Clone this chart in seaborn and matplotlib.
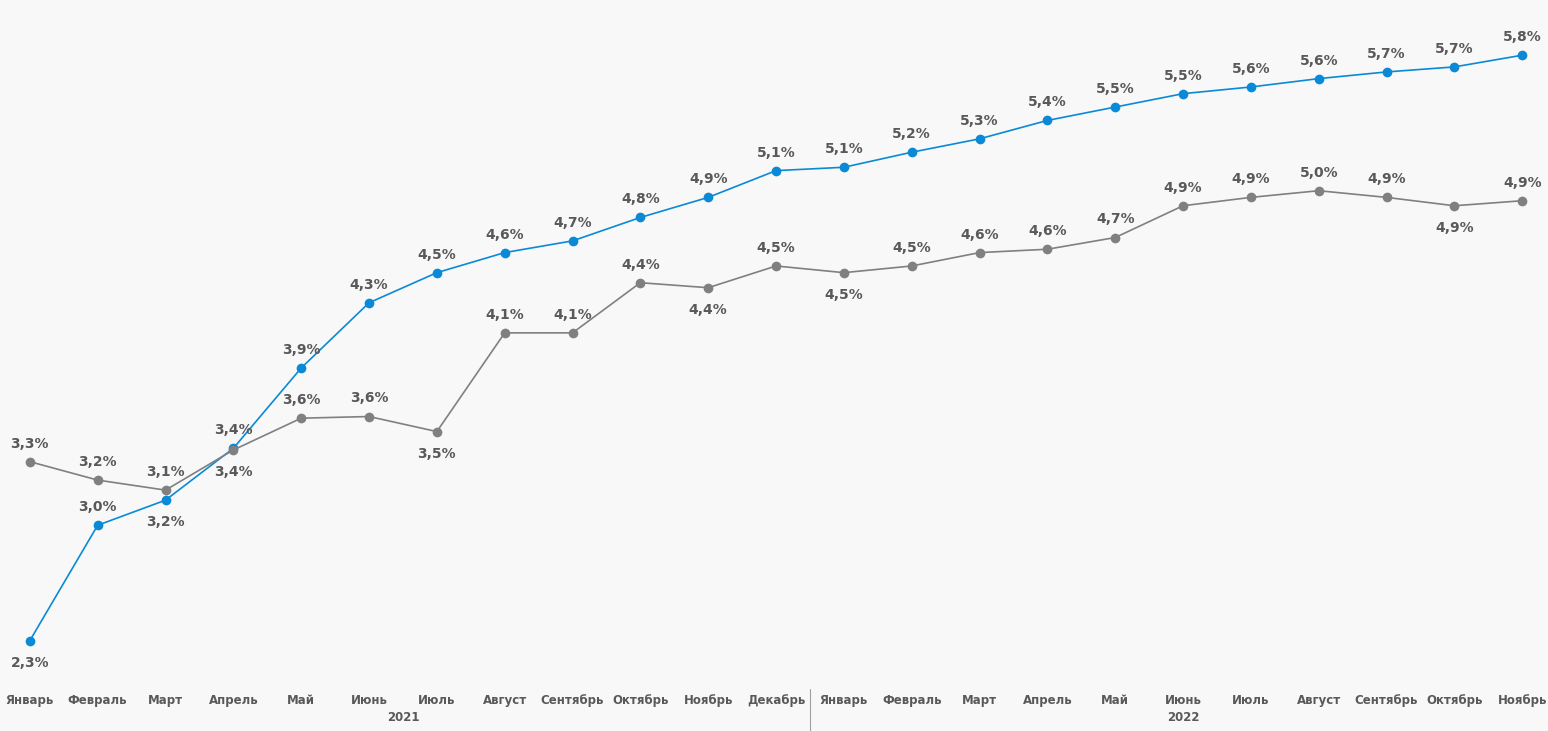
import pandas as pd
import seaborn as sns
import matplotlib.pyplot as plt

sns.set_theme(style="white")
plt.rcParams['font.family'] = ['DejaVu Sans']

months = ["Январь", "Февраль", "Март", "Апрель", "Май", "Июнь", "Июль", "Август",
          "Сентябрь", "Октябрь", "Ноябрь", "Декабрь",
          "Январь", "Февраль", "Март", "Апрель", "Май", "Июнь", "Июль", "Август",
          "Сентябрь", "Октябрь", "Ноябрь"]
blue_vals = [2.30, 2.99, 3.14, 3.45, 3.93, 4.32, 4.50, 4.62, 4.69, 4.83, 4.95, 5.11,
             5.13, 5.22, 5.30, 5.41, 5.49, 5.57, 5.61, 5.66, 5.70, 5.73, 5.80]
gray_vals = [3.37, 3.26, 3.20, 3.44, 3.63, 3.64, 3.55, 4.14, 4.14, 4.44, 4.41, 4.54,
             4.50, 4.54, 4.62, 4.64, 4.71, 4.90, 4.95, 4.99, 4.95, 4.90, 4.93]
blue_labels = ["2,3%", "3,0%", "3,2%", "3,4%", "3,9%", "4,3%", "4,5%", "4,6%", "4,7%", "4,8%",
               "4,9%", "5,1%", "5,1%", "5,2%", "5,3%", "5,4%", "5,5%", "5,5%", "5,6%", "5,6%",
               "5,7%", "5,7%", "5,8%"]
gray_labels = ["3,3%", "3,2%", "3,1%", "3,4%", "3,6%", "3,6%", "3,5%", "4,1%", "4,1%", "4,4%",
               "4,4%", "4,5%", "4,5%", "4,5%", "4,6%", "4,6%", "4,7%", "4,9%", "4,9%", "5,0%",
               "4,9%", "4,9%", "4,9%"]
blue_below = {0, 2}
gray_below = {3, 6, 10, 12, 21}
years = ["2021", "2022"]

BLUE = "#0a8ad6"
GRAY = "#808080"
TXT = "#595959"
BG = "#f8f8f8"

df = pd.DataFrame({
    "x": list(range(len(months))) * 2,
    "value": blue_vals + gray_vals,
    "series": ["blue"] * len(months) + ["gray"] * len(months),
})

fig = plt.figure(figsize=(15.48, 7.31), dpi=100, facecolor=BG)
ax = fig.add_axes([0, 0, 1, 1])
ax.set_facecolor(BG)
sns.lineplot(data=df, x="x", y="value", hue="series", palette={"blue": BLUE, "gray": GRAY},
             marker="o", markersize=7, markeredgewidth=0, linewidth=1.2, legend=False, ax=ax)

for vals, labels, below in [(blue_vals, blue_labels, blue_below), (gray_vals, gray_labels, gray_below)]:
    for i, (v, lab) in enumerate(zip(vals, labels)):
        off = -16 if i in below else 13
        ax.annotate(lab, (i, v), xytext=(0, off), textcoords="offset points",
                    ha="center", va="center", fontsize=10, fontweight="bold", color=TXT)

xt = ax.get_xaxis_transform()
for i, m in enumerate(months):
    ax.text(i, 0.042, m, transform=xt, ha="center", va="center", fontsize=8.5,
            fontweight="bold", color=TXT)
ax.text(5.5, 0.018, years[0], transform=xt, ha="center", va="center", fontsize=8.5,
        fontweight="bold", color=TXT)
ax.text(17, 0.018, years[1], transform=xt, ha="center", va="center", fontsize=8.5,
        fontweight="bold", color=TXT)
ax.plot([11.5, 11.5], [0.0, 0.058], transform=xt, color="#a0a0a0", linewidth=0.8)

ax.set_xlim(-0.44, 22.38)
ax.set_ylim(1.76, 6.13)
ax.axis("off")
fig.savefig("out.png", dpi=100, facecolor=BG)
